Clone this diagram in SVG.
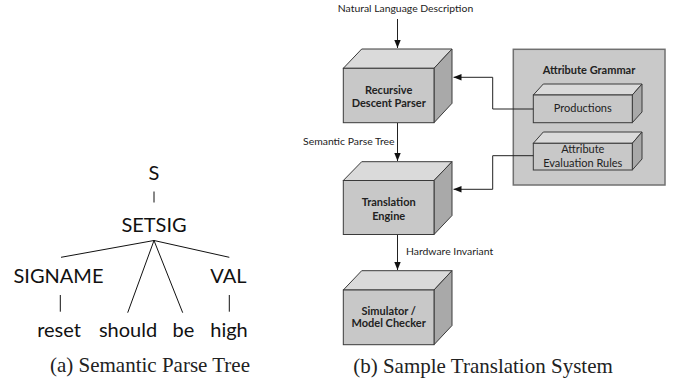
<svg xmlns="http://www.w3.org/2000/svg" width="674" height="386" viewBox="0 0 674 386">
<style>
.tree{font-family:Lato,"Open Sans",sans-serif;font-size:20px;fill:#111;text-anchor:middle}
.cap{font-family:"Liberation Serif","Times New Roman",serif;font-size:21px;fill:#222;text-anchor:middle}
.lbl{font-family:Lato,"Open Sans",sans-serif;font-size:10.4px;fill:#222}
.bl{font-family:Lato,"Open Sans",sans-serif;font-size:11px;font-weight:bold;fill:#222;text-anchor:middle}
.il{font-family:Lato,"Open Sans",sans-serif;font-size:11px;fill:#222;text-anchor:middle}
.tl{stroke:#111;stroke-width:1;fill:none}
.front{fill:#c8c8c8;stroke:#3a3a3a;stroke-width:1}
.top{fill:#dadada;stroke:#3a3a3a;stroke-width:1}
.side{fill:#a9a9a9;stroke:#3a3a3a;stroke-width:1}
.conn{stroke:#222;stroke-width:1;fill:none}
</style>
<defs>
<marker id="ah" viewBox="0 0 8 8" refX="8" refY="4" markerWidth="8" markerHeight="8" markerUnits="userSpaceOnUse" orient="auto">
<path d="M0,0.8 L8,4 L0,7.2 Z" fill="#111"/>
</marker>
</defs>

<g id="tree">
<text class="tree" x="154" y="180">S</text>
<text class="tree" x="154" y="231.5">SETSIG</text>
<text class="tree" x="58.5" y="283">SIGNAME</text>
<text class="tree" x="228.5" y="283">VAL</text>
<text class="tree" x="59" y="336.5">reset</text>
<text class="tree" x="128" y="336.5">should</text>
<text class="tree" x="183.5" y="336.5">be</text>
<text class="tree" x="229" y="336.5">high</text>
<line class="tl" x1="154" y1="191.5" x2="154" y2="202.5"/>
<line class="tl" x1="154" y1="240.5" x2="61" y2="257.3"/>
<line class="tl" x1="154" y1="240.5" x2="127.7" y2="312.7"/>
<line class="tl" x1="154" y1="240.5" x2="182.7" y2="312.7"/>
<line class="tl" x1="154" y1="240.5" x2="229.3" y2="257.3"/>
<line class="tl" x1="60.3" y1="295" x2="60.3" y2="311.7"/>
<line class="tl" x1="229.3" y1="295" x2="229.3" y2="311.7"/>
<text class="cap" x="150" y="372">(a) Semantic Parse Tree</text>
</g>

<g id="container">
<rect x="513.3" y="49.3" width="151.7" height="135.7" fill="#c9c9c9" stroke="#707070" stroke-width="1.5"/>
<text class="bl" x="589" y="73.5">Attribute Grammar</text>
</g>

<g id="productions">
<polygon class="top" points="533.3,95 543.3,84 642,84 632.3,95"/>
<polygon class="side" points="632.3,95 642,84 642,112 632.3,122.7"/>
<rect class="front" x="533.3" y="95" width="99" height="27.7"/>
<text class="il" x="582.8" y="112">Productions</text>
</g>

<g id="evalrules">
<polygon class="top" points="533.3,143.3 543.3,132 642,132 632.3,143.3"/>
<polygon class="side" points="632.3,143.3 642,132 642,159 632.3,170"/>
<rect class="front" x="533.3" y="143.3" width="99" height="26.7"/>
<text class="il" x="582.8" y="153">Attribute</text>
<text class="il" x="582.8" y="166.5">Evaluation Rules</text>
</g>

<g id="parser">
<polygon class="top" points="343.3,68.3 361.7,49 452,49 434,68.3"/>
<polygon class="side" points="434,68.3 452,49 452,103.3 434,122.7"/>
<rect class="front" x="343.3" y="68.3" width="90.7" height="54.4"/>
<text class="bl" x="388.7" y="93.5">Recursive</text>
<text class="bl" x="388.7" y="107">Descent Parser</text>
</g>

<g id="engine">
<polygon class="top" points="343.3,180.5 361.7,161.7 452,161.7 434,180.5"/>
<polygon class="side" points="434,180.5 452,161.7 452,215.5 434,234.5"/>
<rect class="front" x="343.3" y="180.5" width="90.7" height="54"/>
<text class="bl" x="388.7" y="205.5">Translation</text>
<text class="bl" x="388.7" y="219.5">Engine</text>
</g>

<g id="simulator">
<polygon class="top" points="343.3,290 361.7,270.7 452,270.7 434,290"/>
<polygon class="side" points="434,290 452,270.7 452,325.5 434,344.7"/>
<rect class="front" x="343.3" y="290" width="90.7" height="54.7"/>
<text class="bl" x="388.7" y="314.5">Simulator /</text>
<text class="bl" x="388.7" y="327">Model Checker</text>
</g>

<g id="connectors">
<line class="conn" x1="397.5" y1="19" x2="397.5" y2="48" marker-end="url(#ah)"/>
<line class="conn" x1="397.5" y1="123" x2="397.5" y2="161" marker-end="url(#ah)"/>
<line class="conn" x1="397.5" y1="235" x2="397.5" y2="270" marker-end="url(#ah)"/>
<polyline class="conn" points="533.3,109 492.7,109 492.7,77.3 453.5,77.3" marker-end="url(#ah)"/>
<polyline class="conn" points="533.3,155.7 492.7,155.7 492.7,189.3 453.5,189.3" marker-end="url(#ah)"/>
<text class="lbl" x="405.5" y="12" text-anchor="middle">Natural Language Description</text>
<text class="lbl" x="394.5" y="145" text-anchor="end">Semantic Parse Tree</text>
<text class="lbl" x="406" y="255">Hardware Invariant</text>
</g>

<text class="cap" x="483" y="373">(b) Sample Translation System</text>
</svg>
